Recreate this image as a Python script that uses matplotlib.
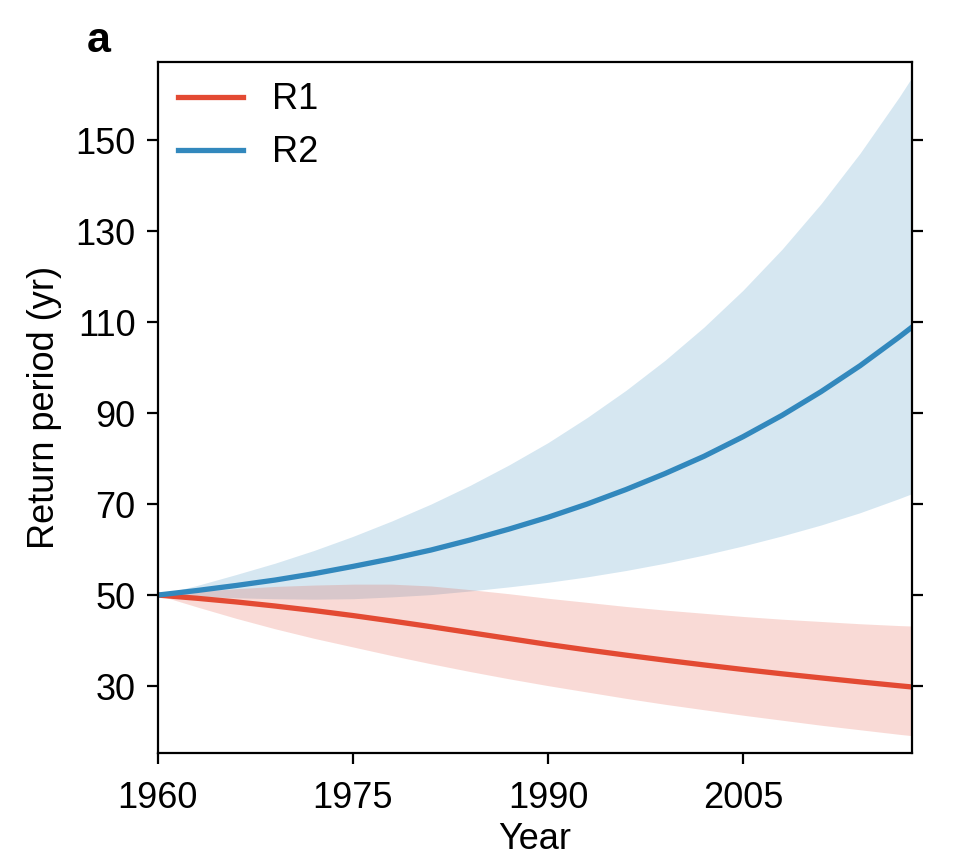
import numpy as np
import matplotlib.pyplot as plt

plt.rcParams['font.family'] = ['Liberation Sans', 'DejaVu Sans']

# 年份
years = np.array([1960, 1963, 1966, 1969, 1972, 1975, 1978, 1981, 1984, 1987, 1990,
                  1993, 1996, 1999, 2002, 2005, 2008, 2011, 2014, 2017, 2018])

# R1 重现期 (中值, 上下界)
r1_mid = np.array([50.0, 49.3, 48.5, 47.6, 46.6, 45.5, 44.3, 43.05, 41.75, 40.45, 39.15,
                   37.95, 36.8, 35.7, 34.65, 33.65, 32.7, 31.8, 30.92, 30.07, 29.8])
r1_hi = np.array([50.0, 50.8, 51.4, 51.9, 52.2, 52.4, 52.4, 52.0, 51.2, 50.3, 49.3,
                  48.4, 47.5, 46.7, 46.0, 45.3, 44.7, 44.2, 43.7, 43.3, 43.2])
r1_lo = np.array([50.0, 47.4, 44.9, 42.6, 40.5, 38.6, 36.7, 34.9, 33.2, 31.6, 30.1,
                  28.7, 27.3, 26.0, 24.8, 23.6, 22.5, 21.4, 20.4, 19.4, 19.1])

# R2 重现期
r2_mid = np.array([50.0, 51.0, 52.1, 53.3, 54.7, 56.3, 58.0, 59.9, 62.1, 64.5, 67.1,
                   70.0, 73.2, 76.7, 80.5, 84.8, 89.5, 94.7, 100.4, 106.7, 108.9])
r2_hi = np.array([50.0, 52.1, 54.5, 57.0, 59.8, 62.9, 66.3, 70.0, 74.1, 78.6, 83.5,
                  89.0, 95.0, 101.6, 108.9, 117.0, 126.0, 136.0, 147.1, 159.4, 163.8])
r2_lo = np.array([50.0, 49.7, 49.4, 49.2, 49.1, 49.2, 49.6, 50.1, 50.9, 51.8, 52.8,
                  54.0, 55.4, 57.0, 58.8, 60.8, 63.0, 65.4, 68.1, 71.2, 72.3])

c_r1 = '#e34a33'
c_r2 = '#3288bd'

fig = plt.figure(figsize=(9.57, 8.65), dpi=100)
ax = fig.add_axes([0.165, 0.129, 0.788, 0.799])

ax.fill_between(years, r2_lo, r2_hi, color=c_r2, alpha=0.2, lw=0)
ax.fill_between(years, r1_lo, r1_hi, color=c_r1, alpha=0.2, lw=0)
ax.plot(years, r1_mid, color=c_r1, lw=3.8, label='R1')
ax.plot(years, r2_mid, color=c_r2, lw=3.8, label='R2')

ax.set_xlim(1960, 2018)
ax.set_ylim(15.2, 167.1)
ax.set_xticks([1960, 1975, 1990, 2005])
ax.set_yticks([30, 50, 70, 90, 110, 130, 150])
ax.tick_params(labelsize=26, length=8, width=1.6, pad=8, right=True)
ax.tick_params(axis='x', pad=12)
for s in ax.spines.values():
    s.set_linewidth(1.6)

ax.set_xlabel('Year', fontsize=26, labelpad=4)
ax.set_ylabel('Return period (yr)', fontsize=26, labelpad=10)
ax.legend(loc='upper left', frameon=False, fontsize=26, handlelength=1.8,
          handletextpad=0.8, labelspacing=0.5, borderaxespad=0.15)
fig.text(0.091, 0.94, 'a', fontsize=31, fontweight='bold')

fig.savefig('out.png', dpi=100)
